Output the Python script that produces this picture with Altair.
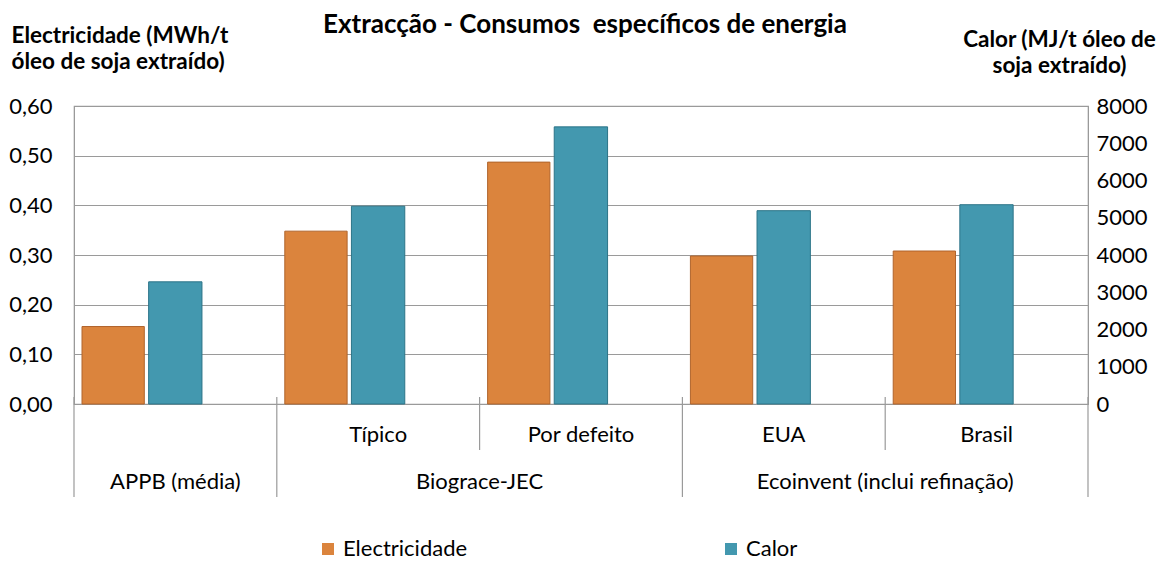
import altair as alt
import pandas as pd

# ---------------- data ----------------
titulo = "Extracção - Consumos \u00a0específicos de energia"
subcategorias = ["", "Típico", "Por defeito", "EUA", "Brasil"]
grupos = ["APPB (média)", "Biograce-JEC", "Ecoinvent (inclui refinação)"]
grupo_n = [1, 2, 2]
electricidade = [0.156, 0.348, 0.487, 0.298, 0.308]
calor = [3280, 5310, 7440, 5190, 5350]
series = ["Electricidade", "Calor"]
ticks_esq = [0.0, 0.1, 0.2, 0.3, 0.4, 0.5, 0.6]
ticks_dir = [0, 1000, 2000, 3000, 4000, 5000, 6000, 7000, 8000]
titulo_esq = ["Electricidade (MWh/t", "óleo de soja extraído)"]
titulo_dir = ["Calor (MJ/t óleo de", "soja extraído)"]

# ---------------- style ----------------
FONT = "Lato"
ORANGE, ORANGE_EDGE = "#DB843D", "#B0642C"
TEAL, TEAL_EDGE = "#4398AF", "#2C7488"
GRID = "#9a9a9a"
W, H = 1014, 298
FS = 22

n = len(subcategorias)
rows = []
for i in range(n):
    rows.append({"idx": i, "serie": series[0], "valor": electricidade[i]})
    rows.append({"idx": i, "serie": series[1], "valor": calor[i]})
df = pd.DataFrame(rows)

xscale = alt.Scale(domain=[0, n], nice=False, zero=False)
color_scale = alt.Scale(domain=series, range=[ORANGE, TEAL])
stroke_scale = alt.Scale(domain=series, range=[ORANGE_EDGE, TEAL_EDGE])

bars_base = alt.Chart(df)

elec = bars_base.transform_filter(alt.datum.serie == series[0]).transform_calculate(
    x0="datum.idx + 0.0395", x1="datum.idx + 0.3467"
).mark_bar(strokeWidth=1).encode(
    x=alt.X("x0:Q", scale=xscale, axis=None),
    x2="x1:Q",
    y=alt.Y("valor:Q", scale=alt.Scale(domain=[0, 0.6], nice=False),
            axis=alt.Axis(values=ticks_esq, orient="left",
                          labelExpr="replace(format(datum.value, '.2f'), '.', ',')",
                          grid=True, gridColor=GRID, gridWidth=1.2, ticks=False,
                          domainColor=GRID, labelPadding=22, labelFontSize=FS,
                          title=titulo_esq, titleAngle=0, titleAlign="left",
                          titleBaseline="alphabetic", titleX=-63, titleY=-64,
                          titleFontSize=22.5, titleFontWeight="bold", titleLineHeight=26)),
    y2=alt.datum(0),
    color=alt.Color("serie:N", scale=color_scale,
                    legend=alt.Legend(title=None, orient="none", legendX=243, legendY=432,
                                      direction="horizontal", columns=2, columnPadding=252,
                                      symbolType="square", symbolSize=144, symbolStrokeWidth=0,
                                      labelFontSize=FS, labelFont=FONT, labelOffset=4)),
    stroke=alt.Stroke("serie:N", scale=stroke_scale, legend=None),
)

heat = bars_base.transform_filter(alt.datum.serie == series[1]).transform_calculate(
    x0="datum.idx + 0.368", x1="datum.idx + 0.631"
).mark_bar(strokeWidth=1).encode(
    x=alt.X("x0:Q", scale=xscale, axis=None),
    x2="x1:Q",
    y=alt.Y("valor:Q", scale=alt.Scale(domain=[0, 8000], nice=False),
            axis=alt.Axis(values=ticks_dir, orient="right", grid=False, ticks=False,
                          domainColor=GRID, labelPadding=8, labelFontSize=FS, format="d",
                          title=titulo_dir, titleAngle=0, titleAlign="center",
                          titleBaseline="alphabetic", titleX=-29, titleY=-60,
                          titleFontSize=22.5, titleFontWeight="bold", titleLineHeight=26)),
    y2=alt.datum(0),
    color=alt.Color("serie:N", scale=color_scale),
    stroke=alt.Stroke("serie:N", scale=stroke_scale, legend=None),
)

# category axis decorations
starts = []
s = 0
for g in grupo_n:
    starts.append(s)
    s += g
full_pos = starts + [n]
short_pos = [i for i in range(n) if i not in full_pos]
div_df = pd.DataFrame({"pos": full_pos + short_pos,
                       "kind": ["full"] * len(full_pos) + ["short"] * len(short_pos)})

div_full = alt.Chart(div_df).transform_filter(alt.datum.kind == "full").mark_rule(
    color=GRID, strokeWidth=1.2).encode(
    x=alt.X("pos:Q", scale=xscale, axis=None), y=alt.value(291), y2=alt.value(391))
div_short = alt.Chart(div_df).transform_filter(alt.datum.kind == "short").mark_rule(
    color=GRID, strokeWidth=1.2).encode(
    x=alt.X("pos:Q", scale=xscale, axis=None), y=alt.value(291), y2=alt.value(344))

sub_df = pd.DataFrame({"idx": list(range(n)), "label": subcategorias})
sub_text = alt.Chart(sub_df).transform_calculate(xc="datum.idx + 0.5").mark_text(
    font=FONT, fontSize=FS, color="black", baseline="middle").encode(
    x=alt.X("xc:Q", scale=xscale, axis=None), y=alt.value(329), text="label:N")

grp_df = pd.DataFrame({"label": grupos, "start": starts, "span": grupo_n})
grp_text = alt.Chart(grp_df).transform_calculate(xc="datum.start + datum.span / 2").mark_text(
    font=FONT, fontSize=FS, color="black", baseline="middle").encode(
    x=alt.X("xc:Q", scale=xscale, axis=None), y=alt.value(376), text="label:N")

title_text = alt.Chart(pd.DataFrame({"t": [titulo]})).mark_text(
    font=FONT, fontSize=26, fontWeight="bold", color="black", baseline="middle").encode(
    x=alt.value(511), y=alt.value(-81), text="t:N")

chart = alt.layer(elec, heat, div_full, div_short, sub_text, grp_text, title_text).resolve_scale(
    y="independent"
).properties(
    width=W, height=H,
    autosize=alt.AutoSizeParams(type="none"),
    padding={"left": 66, "top": 98, "right": 72, "bottom": 158},
).configure_view(stroke=GRID, strokeWidth=1.2).configure_axis(
    labelFont=FONT, titleFont=FONT, labelColor="black", titleColor="black"
)

chart.save("out.html", embed_options={"renderer": "svg", "actions": False})
